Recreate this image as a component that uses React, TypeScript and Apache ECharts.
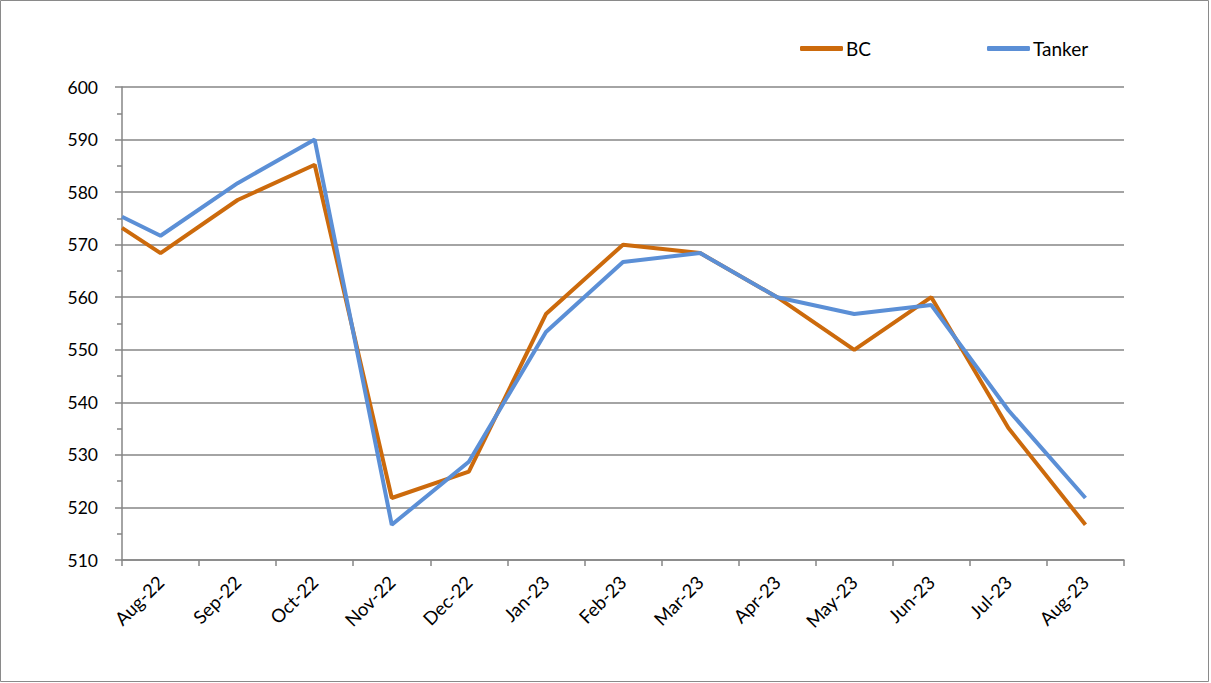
import React, { useEffect, useRef } from "react";
import * as echarts from "echarts";

const categories = [
  "Aug-22", "Sep-22", "Oct-22", "Nov-22", "Dec-22", "Jan-23", "Feb-23",
  "Mar-23", "Apr-23", "May-23", "Jun-23", "Jul-23", "Aug-23",
];
// position of each observation in months from the start of the axis
const pointPositions = [0, 0.5, 1.5, 2.5, 3.5, 4.5, 5.5, 6.5, 7.5, 8.5, 9.5, 10.5, 11.5, 12.5];
const bcValues = [573.2, 568.4, 578.5, 585.2, 521.8, 526.8, 556.8, 570, 568.4, 560, 550, 560, 535.1, 516.7];
const tankerValues = [575.3, 571.7, 581.7, 590, 516.7, 528.7, 553.4, 566.7, 568.4, 560, 556.8, 558.5, 538.5, 521.8];
const yMin = 510;
const yMax = 600;
const yStep = 10;

const FONT = "Lato, 'Open Sans', sans-serif";
const GRID_COLOR = "#868686";
const BC_COLOR = "#CC6A0C";
const TANKER_COLOR = "#5B8FD6";

export default function App() {
  const ref = useRef<HTMLDivElement>(null);
  useEffect(() => {
    if (!ref.current) return;
    const chart = echarts.init(ref.current, undefined, { renderer: "svg" });
    const pair = (vals: number[]) => vals.map((v, i) => [pointPositions[i], v]);
    chart.setOption({
      animation: false,
      backgroundColor: "#ffffff",
      textStyle: { fontFamily: FONT },
      graphic: [
        {
          type: "rect",
          shape: { x: 0.5, y: 0.5, width: 1208, height: 681 },
          style: { fill: "none", stroke: "#8a8a8a", lineWidth: 1 },
          silent: true,
        },
      ],
      legend: {
        left: 795,
        top: 34,
        icon: "roundRect",
        itemWidth: 43,
        itemHeight: 5,
        itemGap: 116,
        textStyle: { fontFamily: FONT, fontSize: 19, color: "#000", padding: [0, 0, 0, -2] },
        data: [
          { name: "BC", itemStyle: { color: BC_COLOR } },
          { name: "Tanker", itemStyle: { color: TANKER_COLOR } },
        ],
      },
      grid: { left: 122, right: 87, top: 87, bottom: 123, containLabel: false },
      xAxis: [
        {
          type: "category",
          data: categories,
          boundaryGap: true,
          axisLine: { show: true, lineStyle: { color: GRID_COLOR, width: 1.5 } },
          axisTick: { show: true, length: 6, lineStyle: { color: GRID_COLOR, width: 1.5 } },
          axisLabel: {
            rotate: 45,
            margin: 19,
            fontSize: 18.5,
            color: "#000",
            fontFamily: FONT,
            interval: 0,
          },
          splitLine: { show: false },
        },
        {
          type: "value",
          min: 0,
          max: categories.length,
          show: false,
          splitLine: { show: false },
        },
      ],
      yAxis: {
        type: "value",
        min: yMin,
        max: yMax,
        interval: yStep,
        axisLine: { show: true, lineStyle: { color: GRID_COLOR, width: 1.5 } },
        axisTick: { show: true, length: 7, lineStyle: { color: GRID_COLOR, width: 1.5 } },
        minorTick: { show: true, splitNumber: 2, length: 5, lineStyle: { color: GRID_COLOR, width: 1.5 } },
        axisLabel: { margin: 24, fontSize: 17.5, color: "#000", fontFamily: FONT },
        splitLine: { show: true, lineStyle: { color: GRID_COLOR, width: 1.5 } },
      },
      series: [
        {
          name: "BC",
          type: "line",
          xAxisIndex: 1,
          data: pair(bcValues),
          symbol: "none",
          lineStyle: { color: BC_COLOR, width: 4 },
          itemStyle: { color: BC_COLOR },
          z: 2,
        },
        {
          name: "Tanker",
          type: "line",
          xAxisIndex: 1,
          data: pair(tankerValues),
          symbol: "none",
          lineStyle: { color: TANKER_COLOR, width: 4 },
          itemStyle: { color: TANKER_COLOR },
          z: 3,
        },
      ],
    });
    return () => chart.dispose();
  }, []);
  return (
    <div
      ref={ref}
      style={{ position: "fixed", left: 0, top: 0, width: 1211, height: 683 }}
    />
  );
}
